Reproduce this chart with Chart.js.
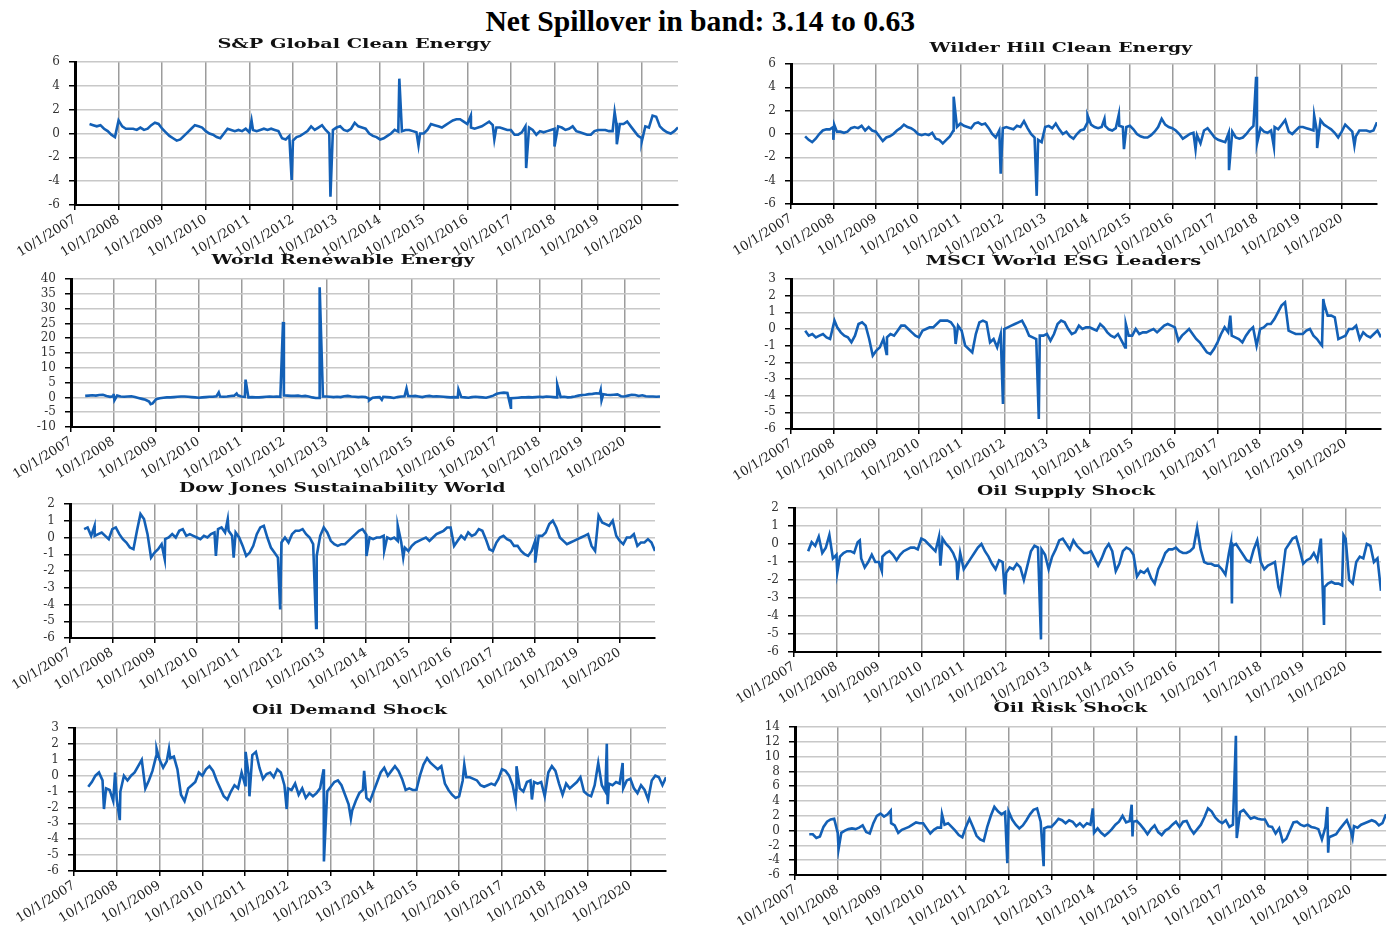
<!DOCTYPE html>
<html>
<head>
<meta charset="utf-8">
<script src="https://cdn.jsdelivr.net/npm/chart.js@4"></script>
<style>
  html, body { margin: 0; padding: 0; background: #fff; }
  #page { position: relative; width: 1396px; height: 925px; overflow: hidden; }
  canvas { position: absolute; }
  .ttl { position: absolute; white-space: nowrap; z-index: 2; }
  #mainTitle { font: bold 30px "Liberation Serif", "Times New Roman", serif; color: #000; }
  .sub { font: bold 13px "DejaVu Serif", serif; color: #111; }
</style>
</head>
<body>
<div id="page"></div>
<script>
const mainTitle = "Net Spillover in band: 3.14 to 0.63";
const yearLabels = ["10/1/2007", "10/1/2008", "10/1/2009", "10/1/2010", "10/1/2011", "10/1/2012", "10/1/2013",
  "10/1/2014", "10/1/2015", "10/1/2016", "10/1/2017", "10/1/2018", "10/1/2019", "10/1/2020"];
// monthly readings, Feb 2008 .. Aug 2021 (x in years after 10/1/2007)
const firstMonth = 4 / 12;
const lastMonth = 166 / 12;

const spGlobal = [
  0.8, 0.7, 0.6, 0.7, 0.4, 0.2, -0.1, -0.3,
  1.1, 0.6, 0.4, 0.4, 0.4, 0.3, 0.5, 0.3, 0.4, 0.7, 0.9, 0.8,
  0.4, 0.1, -0.2, -0.4, -0.6, -0.5, -0.2, 0.1, 0.4, 0.7, 0.6, 0.5,
  0.2, 0.0, -0.1, -0.3, -0.4, 0.0, 0.4, 0.3, 0.2, 0.3, 0.2, 0.4,
  0.1, 0.3, 0.2, 0.3, 0.4, 0.3, 0.4, 0.3, 0.2, -0.4, -0.5, -0.2,
  -0.6, -0.3, -0.2, 0.0, 0.2, 0.6, 0.3, 0.5, 0.7, 0.3, 0.0, 0.3,
  0.5, 0.6, 0.3, 0.2, 0.4, 0.9, 0.6, 0.5, 0.4, 0.0, -0.2, -0.3,
  -0.5, -0.4, -0.2, 0.0, 0.3, 0.15, 0.2, 0.3, 0.3, 0.2, 0.1, 0.0,
  0.0, 0.3, 0.8, 0.7, 0.6, 0.5, 0.7, 0.9, 1.1, 1.2, 1.2, 1.0,
  0.8, 0.5, 0.4, 0.5, 0.6, 0.8, 1.0, 0.7, 0.5, 0.5, 0.4, 0.3,
  0.3, -0.1, -0.1, 0.1, 0.6, 0.5, 0.3, -0.1, 0.2, 0.1, 0.2, 0.3,
  0.4, 0.6, 0.5, 0.3, 0.4, 0.6, 0.2, 0.1, 0.0, -0.1, -0.1, 0.2,
  0.3, 0.3, 0.3, 0.2, 0.2, 0.9, 0.8, 0.8, 1.0, 0.6, 0.2, -0.2,
  -0.4, 0.6, 0.5, 1.5, 1.4, 0.6, 0.3, 0.1, 0.0, 0.2, 0.5
];
const spGlobalSpikes = [[4.05, 1.1], [4.97, -3.9], [5.86, -5.3], [7.44, 4.6], [7.88, -1.0], [9.08, 1.5],
  [9.62, -0.5], [10.35, -2.9], [11.0, -1.1], [12.38, 1.8], [12.43, -0.9], [13.0, -0.7]];

const wilderHill = [
  -0.2, -0.5, -0.7, -0.4, 0.0, 0.3, 0.4, 0.4,
  0.6, 0.2, 0.2, 0.1, 0.2, 0.5, 0.6, 0.5, 0.7, 0.3, 0.6, 0.3,
  0.2, -0.2, -0.6, -0.3, -0.2, 0.0, 0.3, 0.5, 0.8, 0.6, 0.5, 0.3,
  0.0, -0.1, 0.0, -0.1, 0.1, -0.4, -0.5, -0.8, -0.5, -0.2, 0.3, 0.6,
  0.9, 0.7, 0.6, 0.5, 0.9, 1.0, 0.8, 0.9, 0.5, 0.0, -0.3, 0.3,
  0.5, 0.6, 0.5, 0.4, 0.7, 0.6, 1.1, 0.5, 0.0, -0.3, -0.5, -0.7,
  0.6, 0.7, 0.5, 0.9, 0.4, 0.0, 0.2, -0.2, -0.4, 0.0, 0.3, 0.4,
  1.0, 0.8, 0.6, 0.5, 0.6, 0.7, 0.4, 0.3, 0.5, 0.7, 0.6, 0.6,
  0.7, 0.4, 0.0, -0.2, -0.3, -0.3, -0.1, 0.2, 0.6, 1.3, 0.8, 0.6,
  0.5, 0.3, 0.0, -0.4, -0.2, 0.0, 0.1, -0.1, -0.8, 0.3, 0.5, 0.1,
  -0.3, -0.5, -0.6, -0.7, 0.1, 0.2, -0.3, -0.4, -0.3, 0.0, 0.4, 0.7,
  0.3, 0.5, 0.2, 0.1, 0.3, 0.6, 0.4, 0.8, 1.2, 0.2, 0.0, 0.3,
  0.6, 0.6, 0.5, 0.4, 0.3, 0.2, 1.2, 0.8, 0.6, 0.4, 0.1, -0.3,
  0.2, 0.8, 0.5, 0.2, -0.2, 0.3, 0.3, 0.3, 0.2, 0.3, 1.0
];
const wilderHillSpikes = [[1.0, -0.5], [1.02, 0.8], [3.84, 3.2], [4.95, -3.4], [5.8, -5.3], [7.0, 1.6],
  [7.4, 1.3], [7.74, 1.7], [7.86, -1.3], [9.55, -1.3], [10.34, -3.1], [10.98, 4.9], [11.0, -0.8],
  [11.4, -1.1], [12.35, 1.6], [12.42, -1.2], [13.3, -1.0]];

const worldRenewable = [
  0.5, 0.6, 0.7, 0.6, 0.8, 0.9, 0.5, 0.2,
  0.4, 0.6, 0.3, 0.2, 0.3, 0.4, 0.1, -0.2, -0.5, -0.8, -1.4, -2.0,
  -0.6, -0.3, -0.1, 0.0, 0.0, 0.1, 0.2, 0.3, 0.3, 0.2, 0.1, 0.0,
  -0.1, 0.0, 0.1, 0.2, 0.2, 0.4, 0.3, 0.2, 0.3, 0.5, 0.6, 0.7,
  0.3, 0.2, 0.0, 0.1, 0.0, 0.0, 0.1, 0.2, 0.3, 0.2, 0.3, 0.2,
  0.7, 0.6, 0.5, 0.5, 0.6, 0.4, 0.5, 0.3, 0.0, -0.2, -0.2, 0.3,
  0.3, 0.2, 0.1, 0.2, 0.1, 0.4, 0.5, 0.3, 0.2, 0.1, 0.2, 0.1,
  -0.4, -0.1, 0.0, 0.1, 0.2, 0.1, 0.0, -0.2, 0.1, 0.3, 0.4, 0.5,
  0.4, 0.5, 0.3, 0.1, 0.4, 0.5, 0.3, 0.4, 0.3, 0.2, 0.1, 0.0,
  0.1, 0.0, 0.1, 0.0, -0.1, 0.1, 0.2, 0.1, 0.0, -0.1, 0.2, 0.6,
  1.2, 1.5, 1.6, 1.5, -0.3, -0.2, -0.1, 0.0, 0.0, 0.1, 0.0, 0.1,
  0.2, 0.1, 0.3, 0.2, 0.1, 0.0, 0.1, 0.2, 0.0, 0.1, 0.3, 0.6,
  0.8, 0.9, 1.1, 1.2, 1.4, 1.3, 1.1, 0.9, 0.8, 0.9, 1.0, 0.4,
  0.3, 0.6, 0.9, 0.8, 0.5, 0.7, 0.4, 0.3, 0.3, 0.2, 0.3
];
const worldRenewableSpikes = [[1.0, 1.2], [1.02, -1.0], [1.87, -2.3], [3.47, 1.7], [3.89, 1.3], [4.1, 6.0],
  [4.98, 25.5], [5.84, 37.2], [7.0, -1.0], [7.3, -0.8], [7.88, 3.0], [9.1, 2.7], [10.33, -3.5],
  [11.42, 4.3], [12.44, 2.5], [12.46, -1.0]];

const msciEsg = [
  -0.1, -0.4, -0.3, -0.5, -0.4, -0.3, -0.5, -0.6,
  0.3, 0.1, -0.2, -0.4, -0.5, -0.8, -0.4, 0.3, 0.4, 0.2, -0.6, -1.6,
  -1.3, -1.1, -0.6, -0.5, -0.3, -0.4, -0.1, 0.2, 0.2, 0.0, -0.2, -0.4,
  -0.5, -0.1, 0.0, 0.1, 0.1, 0.3, 0.5, 0.5, 0.5, 0.4, 0.1, 0.2,
  -0.1, -1.0, -1.2, -1.4, -0.3, 0.4, 0.5, 0.4, -0.8, -0.6, -1.1, -0.3,
  0.0, 0.1, 0.2, 0.3, 0.4, 0.5, 0.1, -0.4, -0.5, -0.6, -0.4, -0.4,
  -0.3, -0.7, -0.3, 0.3, 0.5, 0.4, 0.0, -0.3, -0.2, 0.2, 0.0, 0.1,
  0.1, 0.0, -0.1, 0.3, 0.1, -0.2, -0.4, -0.5, -0.3, -0.7, -1.1, -0.4,
  -0.4, 0.0, -0.3, -0.2, -0.2, -0.1, 0.0, -0.2, 0.0, 0.2, 0.3, 0.2,
  0.1, -0.7, -0.4, -0.2, 0.0, -0.3, -0.6, -0.8, -1.1, -1.4, -1.5, -1.2,
  -0.8, -0.3, 0.1, -0.2, -0.4, -0.5, -0.6, -0.8, -0.4, -0.1, 0.1, -1.0,
  0.0, 0.1, 0.3, 0.3, 0.6, 1.0, 1.4, 1.6, -0.1, -0.2, -0.3, -0.3,
  -0.3, -0.1, 0.0, -0.4, -0.6, -0.9, 1.5, 0.8, 0.8, 0.7, -0.6, -0.5,
  -0.4, 0.0, 0.0, 0.2, -0.6, -0.2, -0.4, -0.5, -0.3, -0.1, -0.5
];
const msciEsgSpikes = [[1.02, 0.5], [2.24, -1.5], [3.86, -0.9], [4.97, -4.5], [5.81, -5.4], [7.85, 0.3],
  [10.3, 0.8], [12.45, -1.0], [12.48, 1.8]];

const djSustain = [
  0.5, 0.6, 0.1, 0.1, 0.2, 0.3, 0.1, -0.1,
  0.5, 0.6, 0.2, -0.1, -0.3, -0.6, -0.7, 0.4, 1.4, 1.1, 0.2, -1.2,
  -0.9, -0.7, -0.4, -0.1, 0.0, 0.2, 0.0, 0.4, 0.5, 0.1, 0.2, 0.1,
  0.0, -0.1, 0.1, 0.0, 0.2, 0.3, 0.5, 0.6, 0.3, 0.4, 0.1, 0.3,
  0.0, -0.5, -1.1, -0.9, -0.5, 0.2, 0.6, 0.7, 0.0, -0.6, -0.9, -1.2,
  -0.3, 0.0, -0.3, 0.2, 0.4, 0.4, 0.5, 0.2, 0.0, -0.4, -1.1, 0.1,
  0.6, 0.3, -0.2, -0.4, -0.5, -0.4, -0.4, -0.2, 0.0, 0.2, 0.4, 0.5,
  0.2, 0.0, -0.1, 0.0, 0.0, 0.1, 0.0, -0.1, 0.0, -0.2, -0.3, -0.6,
  -0.8, -0.5, -0.3, -0.2, -0.1, 0.0, -0.2, 0.0, 0.2, 0.3, 0.4, 0.6,
  0.6, -0.5, -0.2, 0.1, -0.1, 0.3, 0.1, 0.2, 0.5, 0.4, -0.1, -0.7,
  -0.8, -0.3, 0.0, 0.1, -0.1, -0.2, -0.5, -0.5, -0.8, -1.0, -1.1, -0.8,
  -0.2, 0.1, 0.1, 0.3, 0.8, 1.0, 0.6, 0.0, -0.2, -0.4, -0.3, -0.2,
  -0.1, 0.0, 0.1, 0.2, -0.5, -0.8, 1.3, 0.9, 0.8, 0.7, 1.0, 0.1,
  -0.2, -0.4, 0.0, 0.0, 0.2, -0.5, -0.3, -0.3, -0.1, -0.3, -0.8
];
const djSustainSpikes = [[0.58, 0.7], [2.24, -1.3], [3.45, -1.1], [3.73, 1.1], [3.87, -1.2], [4.97, -4.3],
  [5.82, -5.4], [7.01, -1.1], [7.43, -0.8], [7.75, 0.7], [7.88, -1.2], [11.0, -1.5]];

const oilSupply = [
  -0.4, 0.1, -0.1, 0.4, -0.5, -0.2, 0.5, -0.8,
  -0.6, -0.7, -0.5, -0.4, -0.4, -0.5, 0.1, -0.8, -1.3, -1.0, -0.6, -1.0,
  -1.0, -0.7, -0.5, -0.4, -0.6, -0.9, -0.6, -0.4, -0.3, -0.2, -0.2, -0.3,
  0.3, 0.2, 0.0, -0.2, -0.4, 0.4, 0.3, 0.0, -0.2, -0.5, -1.0, -0.5,
  -1.4, -1.1, -0.8, -0.5, -0.2, 0.0, -0.4, -0.7, -1.1, -1.4, -0.9, -1.0,
  -1.6, -1.3, -1.4, -1.1, -1.3, -2.0, -1.2, -0.4, -0.1, -0.2, -0.3, -0.6,
  -1.4, -0.7, -0.3, 0.2, 0.3, 0.0, -0.3, 0.2, -0.1, -0.3, -0.5, -0.5,
  -0.4, -0.8, -1.2, -0.8, -0.3, 0.0, -0.4, -1.5, -1.1, -0.4, -0.2, -0.3,
  -0.6, -1.8, -1.5, -1.6, -1.4, -1.9, -2.2, -1.4, -1.0, -0.5, -0.3, -0.3,
  -0.2, -0.4, -0.5, -0.5, -0.4, -0.2, 0.9, -0.3, -1.0, -1.1, -1.1, -1.2,
  -1.2, -1.4, -1.7, -0.5, -0.1, 0.0, -0.3, -0.6, -0.9, -1.0, -0.3, 0.2,
  -1.0, -1.4, -1.2, -1.1, -1.0, -2.4, -1.9, -0.3, 0.0, 0.3, 0.4, -0.3,
  -1.1, -0.9, -0.8, -0.5, -0.9, 0.3, -2.4, -2.2, -2.1, -2.2, -2.2, -2.3,
  0.3, -2.0, -2.2, -1.0, -0.7, -0.8, 0.0, -0.1, -1.0, -0.8, -2.6
];
const oilSupplySpikes = [[1.02, -1.6], [1.55, 0.2], [2.07, -1.5], [3.45, -1.2], [3.85, -2.0], [4.97, -2.8],
  [5.82, -5.3], [10.3, 0.1], [10.32, -3.3], [11.46, -2.7], [12.49, -4.5], [12.95, 0.5]];

const oilDemand = [
  -0.7, -0.4, 0.0, 0.2, -0.3, -0.8, -0.9, -1.6,
  -1.5, -1.0, 0.0, -0.3, 0.0, 0.2, 0.6, 1.0, -0.8, -0.3, 0.3, 1.2,
  1.0, 0.5, 0.9, 1.1, 1.2, 0.4, -1.2, -1.6, -0.8, -0.6, -0.4, 0.2,
  0.0, 0.4, 0.6, 0.3, -0.3, -0.8, -1.3, -1.5, -1.0, -0.6, -0.8, 0.2,
  -0.6, 0.0, 1.3, 1.5, 0.5, -0.2, 0.1, 0.2, -0.1, 0.4, 0.2, -0.6,
  -0.8, -0.9, -0.5, -1.2, -0.8, -1.4, -1.1, -1.3, -1.1, -0.8, 0.4, -1.0,
  -0.7, -0.4, -0.3, -0.6, -1.2, -1.8, -2.2, -1.6, -1.1, -0.9, -1.4, -1.6,
  -1.0, -0.4, 0.2, 0.5, 0.0, 0.3, 0.6, 0.3, -0.2, -0.9, -0.8, -0.9,
  -0.9, 0.0, 0.7, 1.1, 0.8, 0.6, 0.4, 0.6, -0.5, -0.9, -1.2, -1.4,
  -1.3, -0.3, -0.1, -0.1, -0.2, -0.3, -0.6, -0.7, -0.6, -0.5, -0.6, -0.2,
  0.4, 0.3, 0.0, -0.6, -0.9, -0.8, -1.0, -0.4, -0.3, -0.4, -0.5, -0.4,
  -1.3, 0.2, 0.6, 0.3, -0.5, -1.2, -0.5, -0.8, -0.6, -0.4, -0.1, -1.0,
  -1.2, -1.3, -0.6, 0.8, -0.6, -1.0, -0.5, -0.6, -0.4, -0.5, -0.8, -0.3,
  -0.2, -0.8, -1.1, -0.6, -0.9, -1.5, -0.3, 0.0, -0.1, -0.6, -0.1
];
const oilDemandSpikes = [[0.7, -2.1], [0.96, 0.2], [1.07, -2.8], [1.93, 1.7], [2.22, 1.7], [4.01, 1.5],
  [4.1, -1.3], [4.97, -2.1], [5.84, -5.4], [6.47, -2.7], [6.78, 0.3], [9.12, 0.7], [10.32, -1.6],
  [10.34, 0.6], [10.7, -1.5], [12.45, 2.0], [12.47, -1.8], [12.82, 0.8]];

const oilRisk = [
  -0.5, -0.5, -1.0, -0.8, 0.5, 1.2, 1.5, 1.6,
  -0.3, -0.3, 0.0, 0.2, 0.3, 0.2, 0.4, 0.7, -0.2, -0.4, 1.0, 2.0,
  2.3, 1.9, 2.2, 1.0, 0.7, -0.3, 0.1, 0.3, 0.5, 0.8, 1.1, 1.0,
  1.0, 0.3, -0.4, 0.1, 0.4, 0.4, 0.8, 1.0, 0.5, 0.0, -0.6, -0.9,
  0.5, 1.6, 0.5, -0.7, -1.2, -1.4, 0.5, 2.0, 3.2, 2.6, 2.2, 2.5,
  2.6, 1.5, 0.8, 0.3, 0.7, 1.4, 2.2, 2.8, 3.0, 1.2, 0.3, 0.5,
  0.5, 1.0, 1.6, 1.4, 1.0, 1.4, 1.2, 0.6, 1.0, 0.5, 1.0, 0.8,
  -0.3, 0.3, -0.3, -0.7, -0.3, 0.2, 0.8, 1.2, 2.0, 1.1, 1.3, 1.2,
  1.3, 0.8, 0.2, -0.5, 0.2, 0.7, -0.2, -0.6, 0.0, 0.3, 0.8, 1.2,
  0.5, 1.2, 1.3, 0.3, -0.4, 0.2, 0.8, 1.8, 3.0, 2.6, 1.8, 1.3,
  1.0, 1.4, 0.5, 0.8, 1.8, 2.5, 2.8, 2.2, 1.6, 1.8, 1.6, 1.5,
  1.5, 0.6, 0.5, -0.4, 0.3, -1.5, -1.1, 0.0, 1.1, 1.2, 0.8, 0.6,
  0.8, 0.5, 0.4, 0.2, -1.2, 0.5, -0.9, -0.7, -0.5, 0.2, 0.8, 1.4,
  0.2, 0.6, 0.4, 0.8, 1.0, 1.2, 1.4, 1.2, 0.7, 1.0, 2.2
];
const oilRiskSpikes = [[1.02, -2.5], [2.24, 2.7], [3.44, 2.2], [4.97, -4.4], [5.82, -4.8], [6.97, 3.0],
  [7.88, 3.5], [7.9, -0.8], [10.32, 12.8], [10.34, -1.0], [12.46, 3.2], [12.48, -3.0], [13.05, -1.0]];

const panels = [
  { title: "S&P Global Clean Energy", values: spGlobal, spikes: spGlobalSpikes, yMin: -6, yMax: 6, yStep: 2 },
  { title: "Wilder Hill Clean Energy", values: wilderHill, spikes: wilderHillSpikes, yMin: -6, yMax: 6, yStep: 2 },
  { title: "World Renewable Energy", values: worldRenewable, spikes: worldRenewableSpikes, yMin: -10, yMax: 40, yStep: 5 },
  { title: "MSCI World ESG Leaders", values: msciEsg, spikes: msciEsgSpikes, yMin: -6, yMax: 3, yStep: 1 },
  { title: "Dow Jones Sustainability World", values: djSustain, spikes: djSustainSpikes, yMin: -6, yMax: 2, yStep: 1 },
  { title: "Oil Supply Shock", values: oilSupply, spikes: oilSupplySpikes, yMin: -6, yMax: 2, yStep: 1 },
  { title: "Oil Demand Shock", values: oilDemand, spikes: oilDemandSpikes, yMin: -6, yMax: 3, yStep: 1 },
  { title: "Oil Risk Shock", values: oilRisk, spikes: oilRiskSpikes, yMin: -6, yMax: 14, yStep: 2 }
];

// plot-area boxes on the page, plus title centre / width
const boxes = [
  { l: 75, t: 62, r: 678, b: 205, tx: 354, ty: 43, tw: 273 },
  { l: 791, t: 64, r: 1377, b: 204, tx: 1061, ty: 47, tw: 263 },
  { l: 71, t: 279, r: 660, b: 427, tx: 343, ty: 259, tw: 263 },
  { l: 791, t: 279, r: 1381, b: 429, tx: 1063, ty: 260, tw: 276 },
  { l: 70, t: 504, r: 655, b: 638, tx: 342, ty: 487, tw: 327 },
  { l: 794, t: 508, r: 1381, b: 652, tx: 1066, ty: 490, tw: 178 },
  { l: 74, t: 728, r: 666, b: 871, tx: 349, ty: 709, tw: 195 },
  { l: 795, t: 727, r: 1386, b: 875, tx: 1070, ty: 707, tw: 154 }
];
const Y_AXIS_W = 65, X_AXIS_H = 55, PAD_TOP = 20, PAD_RIGHT = 12;

const page = document.getElementById("page");

function addTitle(text, cls, cx, cy, width) {
  const d = document.createElement("div");
  d.className = "ttl " + cls;
  if (cls === "main") d.id = "mainTitle";
  d.textContent = text;
  page.appendChild(d);
  const k = width / d.offsetWidth;
  d.style.left = (cx - d.offsetWidth / 2) + "px";
  d.style.top = (cy - d.offsetHeight / 2) + "px";
  d.style.transform = "scaleX(" + k.toFixed(3) + ")";
}

function toPoints(values, spikes) {
  const pts = values.map((v, i) => ({ x: firstMonth + i / 12, y: v }));
  spikes.forEach(s => pts.push({ x: s[0], y: s[1] }));
  pts.sort((a, b) => a.x - b.x);
  return pts;
}

addTitle(mainTitle, "main", 700, 21, 430);

panels.forEach((p, i) => {
  const b = boxes[i];

  const cv = document.createElement("canvas");
  const w = b.r - b.l + Y_AXIS_W + PAD_RIGHT;
  const h = b.b - b.t + PAD_TOP + X_AXIS_H;
  cv.width = w; cv.height = h;
  cv.style.width = w + "px"; cv.style.height = h + "px";
  cv.style.left = (b.l - Y_AXIS_W) + "px";
  cv.style.top = (b.t - PAD_TOP) + "px";
  page.appendChild(cv);
  addTitle(p.title, "sub", b.tx, b.ty, b.tw);

  new Chart(cv, {
    type: "line",
    data: {
      datasets: [{
        data: toPoints(p.values, p.spikes),
        borderColor: "#1360b6",
        borderWidth: 2.6,
        pointRadius: 0,
        tension: 0,
        fill: false
      }]
    },
    options: {
      animation: false,
      responsive: false,
      maintainAspectRatio: false,
      layout: { padding: { top: PAD_TOP, right: PAD_RIGHT, left: 0, bottom: 0 } },
      plugins: { legend: { display: false }, tooltip: { enabled: false }, title: { display: false } },
      scales: {
        x: {
          type: "linear",
          min: 0,
          max: lastMonth,
          afterBuildTicks: s => { s.ticks = yearLabels.map((_, k) => ({ value: k })); },
          afterFit: s => { s.height = X_AXIS_H; },
          ticks: {
            autoSkip: false,
            minRotation: 32,
            maxRotation: 32,
            padding: 2,
            color: "#222",
            font: { family: "DejaVu Serif", size: 13 },
            callback: v => yearLabels[v]
          },
          grid: { color: "#9c9c9c", lineWidth: 1.5, tickColor: "#000", tickLength: 5 },
          border: { color: "#000", width: 2 }
        },
        y: {
          min: p.yMin,
          max: p.yMax,
          afterFit: s => { s.width = Y_AXIS_W; },
          ticks: {
            autoSkip: false,
            stepSize: p.yStep,
            padding: 9,
            color: "#333",
            font: { family: "DejaVu Serif", size: 12 }
          },
          grid: { color: "#c8c8c8", lineWidth: 1.5, tickColor: "#000", tickLength: 6 },
          border: { color: "#000", width: 3 }
        }
      }
    }
  });
});
</script>
</body>
</html>
